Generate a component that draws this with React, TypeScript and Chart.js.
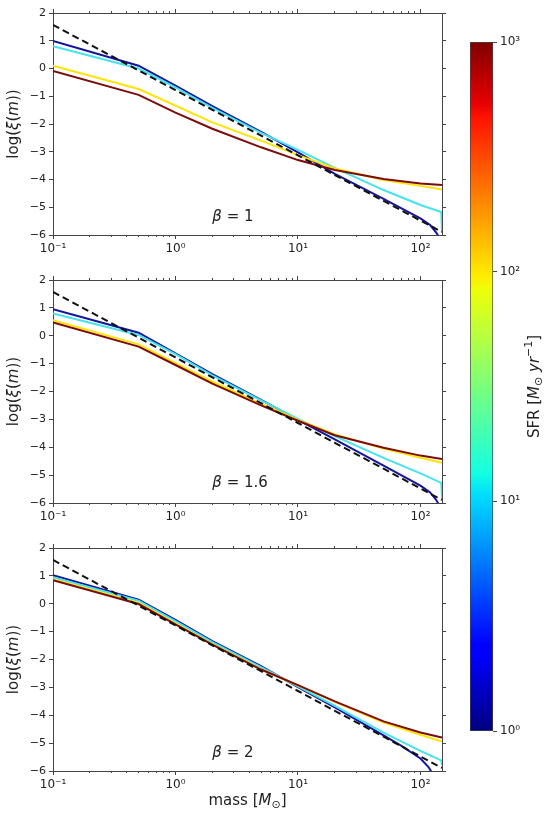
import { useEffect, useRef } from 'react'
import { Chart, registerables } from 'chart.js'

Chart.register(...registerables)

// mass grid in M_sun, shared by the dashed curve and the high-SFR curves
const massGrid = [0.1, 0.5, 1, 2, 5, 10, 20, 50, 100, 150]

// canonical IMF, log(xi(m)) (dashed black)
const canonical = [1.57, -0.07, -0.78, -1.49, -2.42, -3.13, -3.84, -4.77, -5.48, -5.89]

// beta = 1
const b1Mass1 = [0.1, 0.5, 1, 2, 5, 10, 20, 50, 100, 120, 135, 145]
const b1Sfr1 = [0.99, 0.1, -0.62, -1.36, -2.28, -3.02, -3.8, -4.7, -5.4, -5.64, -5.92, -6.15]
const b1Mass10 = [0.1, 0.5, 1, 2, 5, 10, 20, 50, 100, 148, 150]
const b1Sfr10 = [0.8, 0.0, -0.68, -1.42, -2.32, -2.93, -3.58, -4.38, -4.92, -5.17, -5.9]
const b1Sfr100 = [0.1, -0.74, -1.34, -1.94, -2.6, -3.12, -3.6, -4.02, -4.23, -4.36]
const b1Sfr1000 = [-0.09, -0.95, -1.59, -2.17, -2.84, -3.3, -3.66, -3.98, -4.14, -4.2]

// beta = 1.6
const b2Mass1 = [0.1, 0.5, 1, 2, 5, 10, 20, 50, 100, 120, 135, 145]
const b2Sfr1 = [0.95, 0.11, -0.63, -1.38, -2.3, -3.02, -3.72, -4.66, -5.38, -5.62, -5.9, -6.15]
const b2Mass10 = [0.1, 0.5, 1, 2, 5, 10, 20, 50, 100, 148, 150]
const b2Sfr10 = [0.8, 0.03, -0.66, -1.42, -2.32, -2.98, -3.6, -4.38, -4.94, -5.28, -5.85]
const b2Sfr100 = [0.56, -0.31, -0.98, -1.65, -2.44, -3.02, -3.54, -4.05, -4.38, -4.56]
const b2Sfr1000 = [0.48, -0.39, -1.05, -1.72, -2.5, -3.05, -3.57, -4.02, -4.3, -4.42]

// beta = 2
const b3Mass1 = [0.1, 0.5, 1, 2, 5, 10, 20, 50, 70, 100, 116, 130]
const b3Sfr1 = [1.02, 0.15, -0.58, -1.34, -2.24, -2.99, -3.72, -4.72, -5.1, -5.55, -5.85, -6.2]
const b3Mass10 = [0.1, 0.5, 1, 2, 5, 10, 20, 50, 100, 148, 150]
const b3Sfr10 = [0.95, 0.11, -0.62, -1.38, -2.27, -2.96, -3.66, -4.62, -5.28, -5.62, -5.8]
const b3Sfr100 = [0.88, 0.03, -0.71, -1.45, -2.35, -2.93, -3.52, -4.26, -4.7, -4.94]
const b3Sfr1000 = [0.84, -0.01, -0.74, -1.47, -2.36, -2.92, -3.5, -4.22, -4.62, -4.8]

const betaLabels = ['1', '1.6', '2']

// ticks
const xMajorTicks = [0.1, 1, 10, 100]
const xTickLabels = ['10⁻¹', '10⁰', '10¹', '10²']
const xMinorTicks = [
  0.2, 0.3, 0.4, 0.5, 0.6, 0.7, 0.8, 0.9,
  2, 3, 4, 5, 6, 7, 8, 9,
  20, 30, 40, 50, 60, 70, 80, 90,
]
const yTicks = [-6, -5, -4, -3, -2, -1, 0, 1, 2]
const cbTicks = [1, 10, 100, 1000]
const cbTickLabels = ['10⁰', '10¹', '10²', '10³']

// jet colormap stops for the colorbar
const jetStops: [number, string][] = [
  [0, 'rgb(0,0,128)'],
  [0.11, 'rgb(0,0,255)'],
  [0.125, 'rgb(0,0,255)'],
  [0.34, 'rgb(0,219,255)'],
  [0.375, 'rgb(20,255,226)'],
  [0.5, 'rgb(123,255,123)'],
  [0.64, 'rgb(238,255,8)'],
  [0.66, 'rgb(255,237,0)'],
  [0.89, 'rgb(255,19,0)'],
  [0.91, 'rgb(232,0,0)'],
  [1, 'rgb(128,0,0)'],
]

const colBlue = '#14149e'
const colCyan = '#45e2ef'
const colYellow = '#ffe400'
const colRed = '#7e0b0b'
const axisColor = '#444'
const textColor = '#222'
const FONT = '"DejaVu Sans", sans-serif'
const tickFont = { family: FONT, size: 11 }
const xTickFont = { family: FONT, size: 12 }

type Run = { t: string; it?: boolean; sub?: boolean; sup?: boolean }

// draws a line of text made of plain / italic / sub / superscript pieces
function drawRuns(
  ctx: CanvasRenderingContext2D,
  runs: Run[],
  x: number,
  y: number,
  size: number,
  rot = 0,
  align: 'center' | 'left' = 'center'
) {
  ctx.save()
  ctx.translate(x, y)
  ctx.rotate(rot)
  ctx.fillStyle = textColor
  ctx.textBaseline = 'middle'
  ctx.textAlign = 'left'
  const fontOf = (r: Run) =>
    `${r.it ? 'italic ' : ''}${r.sub || r.sup ? Math.round(size * 0.7) : size}px ${FONT}`
  const widths = runs.map((r) => {
    ctx.font = fontOf(r)
    return ctx.measureText(r.t).width
  })
  const total = widths.reduce((a, b) => a + b, 0)
  let cx = align === 'center' ? -total / 2 : 0
  runs.forEach((r, i) => {
    ctx.font = fontOf(r)
    const dy = r.sub ? size * 0.3 : r.sup ? -size * 0.38 : 0
    ctx.fillText(r.t, cx, dy)
    cx += widths[i]
  })
  ctx.restore()
}

const zip = (xs: number[], ys: number[]) => xs.map((x, i) => ({ x, y: ys[i] }))

function line(xs: number[], ys: number[], color: string, dash: number[] = []) {
  return {
    data: zip(xs, ys),
    borderColor: color,
    borderWidth: 2,
    borderDash: dash,
    pointRadius: 0,
    fill: false,
    tension: 0,
  }
}

function logAxis(position: string, weight: number, ticks: number[], tickLength: number, height: number, labels: boolean, border: boolean) {
  return {
    type: 'logarithmic',
    position,
    weight,
    min: 0.1,
    max: 150,
    afterBuildTicks: (s: any) => {
      s.ticks = ticks.map((v) => ({ value: v }))
    },
    afterFit: (s: any) => {
      s.height = height
    },
    ticks: {
      display: labels,
      autoSkip: false,
      maxRotation: 0,
      padding: 3,
      font: xTickFont,
      color: textColor,
      callback: (v: number) => {
        const i = xMajorTicks.indexOf(v)
        return i >= 0 ? xTickLabels[i] : ''
      },
    },
    grid: { display: true, drawOnChartArea: false, drawTicks: true, tickLength, tickColor: axisColor, tickWidth: 1 },
    border: { display: border, color: axisColor, width: 1 },
  }
}

function yAxis(position: string, width: number, labels: boolean) {
  return {
    type: 'linear',
    position,
    min: -6,
    max: 2,
    afterBuildTicks: (s: any) => {
      s.ticks = yTicks.map((v) => ({ value: v }))
    },
    afterFit: (s: any) => {
      s.width = width
    },
    ticks: {
      display: labels,
      padding: 3,
      font: tickFont,
      color: textColor,
      callback: (v: number) => String(v).replace('-', '−'),
    },
    grid: { display: true, drawOnChartArea: false, drawTicks: true, tickLength: 4, tickColor: axisColor, tickWidth: 1 },
    border: { display: true, color: axisColor, width: 1 },
  }
}

const panels = [
  { mass1: b1Mass1, sfr1: b1Sfr1, mass10: b1Mass10, sfr10: b1Sfr10, sfr100: b1Sfr100, sfr1000: b1Sfr1000, betaY: -5.35 },
  { mass1: b2Mass1, sfr1: b2Sfr1, mass10: b2Mass10, sfr10: b2Sfr10, sfr100: b2Sfr100, sfr1000: b2Sfr1000, betaY: -5.28 },
  { mass1: b3Mass1, sfr1: b3Sfr1, mass10: b3Mass10, sfr10: b3Sfr10, sfr100: b3Sfr100, sfr1000: b3Sfr1000, betaY: -5.35 },
]

const PANEL_W = 460
const panelTops = [0, 267, 535]
const panelHeights = [262, 262, 282]
const bottomAxisH = [27, 26, 46]

function panelConfig(idx: number): any {
  const p = panels[idx]
  const labelPlugin = {
    id: 'panelText',
    afterDraw(chart: any) {
      const { ctx, chartArea, scales } = chart
      drawRuns(
        ctx,
        [{ t: 'log(' }, { t: 'ξ', it: true }, { t: '(' }, { t: 'm', it: true }, { t: '))' }],
        14,
        (chartArea.top + chartArea.bottom) / 2,
        15,
        -Math.PI / 2
      )
      drawRuns(
        ctx,
        [{ t: 'β', it: true }, { t: ' = ' + betaLabels[idx] }],
        scales.x.getPixelForValue(2.0),
        scales.y.getPixelForValue(p.betaY),
        15,
        0,
        'left'
      )
      if (idx === 2) {
        drawRuns(
          ctx,
          [{ t: 'mass [' }, { t: 'M', it: true }, { t: '⊙', sub: true }, { t: ']' }],
          (chartArea.left + chartArea.right) / 2,
          chartArea.bottom + 30,
          15
        )
      }
    },
  }
  return {
    type: 'line',
    data: {
      datasets: [
        line(massGrid, canonical, '#111', [7, 4]),
        line(massGrid, p.sfr1000, colRed),
        line(massGrid, p.sfr100, colYellow),
        line(p.mass10, p.sfr10, colCyan),
        line(p.mass1, p.sfr1, colBlue),
      ],
    },
    options: {
      responsive: false,
      animation: false,
      layout: { padding: 0 },
      plugins: { legend: { display: false }, tooltip: { enabled: false } },
      scales: {
        x: logAxis('bottom', 1, xMajorTicks, 4, bottomAxisH[idx], true, true),
        xm: logAxis('bottom', 0, xMinorTicks, 2, 0, false, false),
        xt: logAxis('top', 1, xMajorTicks, 4, 13, false, true),
        xtm: logAxis('top', 0, xMinorTicks, 2, 0, false, false),
        y: yAxis('left', 53, true),
        yr: yAxis('right', 18, false),
      },
    },
    plugins: [labelPlugin],
  }
}

function colorbarConfig(): any {
  const labelPlugin = {
    id: 'cbText',
    afterDraw(chart: any) {
      const { ctx, chartArea } = chart
      drawRuns(
        ctx,
        [
          { t: 'SFR [' },
          { t: 'M', it: true },
          { t: '⊙', sub: true },
          { t: ' ' },
          { t: 'yr', it: true },
          { t: '−1', sup: true },
          { t: ']' },
        ],
        75,
        (chartArea.top + chartArea.bottom) / 2,
        15,
        -Math.PI / 2
      )
    },
  }
  return {
    type: 'bar',
    data: {
      labels: ['SFR'],
      datasets: [
        {
          data: [[cbTicks[0], cbTicks[cbTicks.length - 1]]],
          backgroundColor: (c: any) => {
            const area = c.chart.chartArea
            if (!area) return colBlue
            const g = c.chart.ctx.createLinearGradient(0, area.bottom, 0, area.top)
            jetStops.forEach(([pos, col]) => g.addColorStop(pos, col))
            return g
          },
          borderColor: axisColor,
          borderWidth: 1,
          borderSkipped: false,
          categoryPercentage: 1,
          barPercentage: 1,
        },
      ],
    },
    options: {
      responsive: false,
      animation: false,
      layout: { padding: { left: 10, top: 42, bottom: 86, right: 0 } },
      plugins: { legend: { display: false }, tooltip: { enabled: false } },
      scales: {
        x: { display: false },
        y: {
          type: 'logarithmic',
          position: 'right',
          min: 1,
          max: 1000,
          afterBuildTicks: (s: any) => {
            s.ticks = cbTicks.map((v) => ({ value: v }))
          },
          afterFit: (s: any) => {
            s.width = 57
          },
          ticks: {
            padding: 3,
            font: xTickFont,
            color: textColor,
            callback: (v: number) => cbTickLabels[cbTicks.indexOf(v)] ?? '',
          },
          grid: { drawOnChartArea: false, tickLength: 4, tickColor: axisColor },
          border: { display: false },
        },
      },
    },
    plugins: [labelPlugin],
  }
}

function ChartCanvas({ make, left, top, width, height }: { make: () => any; left: number; top: number; width: number; height: number }) {
  const ref = useRef<HTMLCanvasElement>(null)
  useEffect(() => {
    if (!ref.current) return
    const chart = new Chart(ref.current, make())
    return () => chart.destroy()
  }, [make])
  return (
    <canvas
      ref={ref}
      width={width}
      height={height}
      style={{ position: 'absolute', left, top, width, height }}
    />
  )
}

const makers = [() => panelConfig(0), () => panelConfig(1), () => panelConfig(2)]

export default function App() {
  useEffect(() => {
    document.body.style.margin = '0'
  }, [])
  return (
    <div style={{ position: 'relative', width: 550, height: 817, background: '#fff' }}>
      {makers.map((m, i) => (
        <ChartCanvas key={i} make={m} left={0} top={panelTops[i]} width={PANEL_W} height={panelHeights[i]} />
      ))}
      <ChartCanvas make={colorbarConfig} left={460} top={0} width={90} height={817} />
    </div>
  )
}
